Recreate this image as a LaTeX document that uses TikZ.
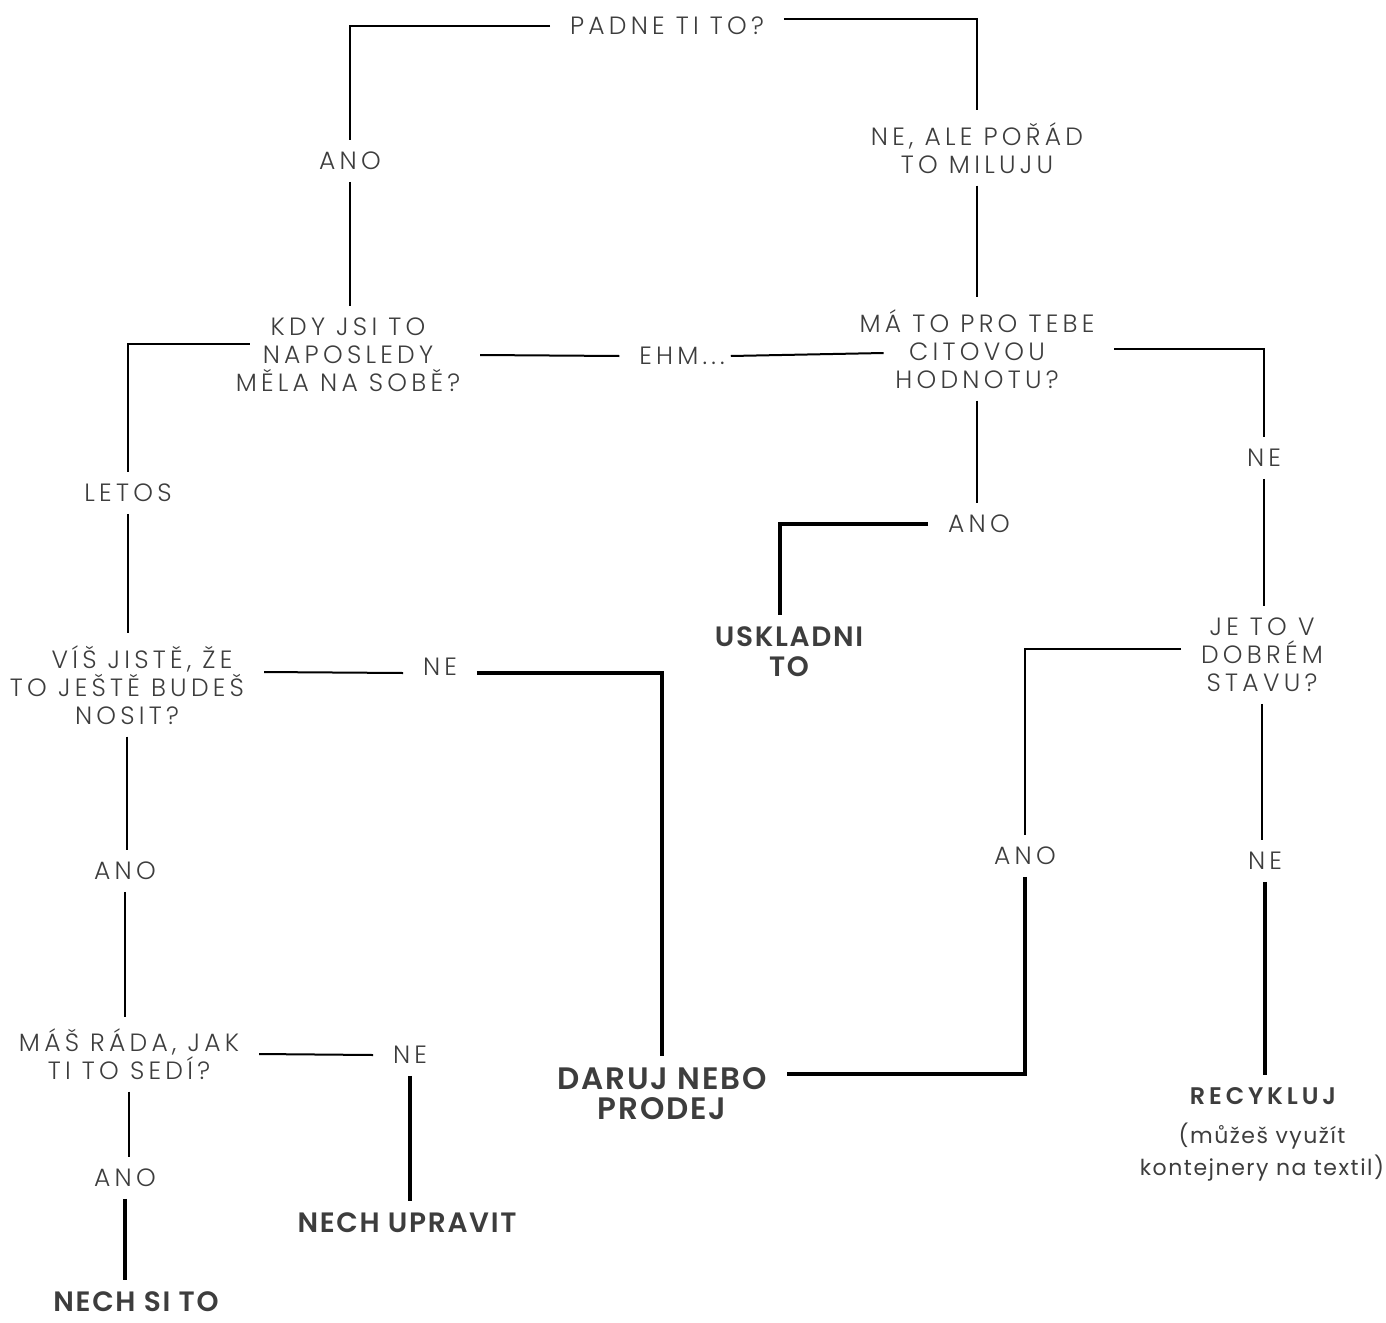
\documentclass[tikz,border=0pt]{standalone}
\usepackage{fontspec}
\setmainfont{Poppins}
\newfontfamily\thinfont{Poppins Light}[LetterSpace=17]
\newfontfamily\heavyfont{Poppins SemiBold}[LetterSpace=6]
\newfontfamily\wideheavyfont{Poppins SemiBold}[LetterSpace=16]
\newfontfamily\notefont{Poppins}[LetterSpace=7]
\usetikzlibrary{positioning}
\definecolor{inkgray}{HTML}{3D3D3D}
\tikzset{
  ask/.style={font=\thinfont\fontsize{12.5}{14}\selectfont, text=inkgray, align=center, inner sep=0pt, outer xsep=10pt, outer ysep=6pt},
  verdict/.style={font=\heavyfont\fontsize{14}{15}\selectfont, text=inkgray, align=center, inner sep=0pt, outer xsep=10pt, outer ysep=6pt},
  thinline/.style={line width=1pt},
  thickline/.style={line width=2pt},
}

\begin{document}
\begin{tikzpicture}[x=0.5pt, y=-0.5pt]
		%%%%% START %%%%%
		\useasboundingbox (0, 0) rectangle (1386, 1322);
		
		\node[ask] (padne) at (667, 26) {PADNE TI TO?};
		\node[ask] (anoA) at (350, 161) {ANO};
		\node[ask] (neAle) at (977, 148) {NE, ALE POŘÁD\\TO MILUJU};
		\node[ask] (kdy) at (348, 355) {KDY JSI TO\\NAPOSLEDY\\MĚLA NA SOBĚ?};
		\node[ask] (ehm) at (682, 356) {EHM...};
		\node[ask] (citova) at (977, 349) {MÁ TO PRO TEBE\\CITOVOU\\HODNOTU?};
		\node[ask] (neB) at (1264, 458) {NE};
		\node[ask] (letos) at (128, 493) {LETOS};
		\node[ask] (anoC) at (979, 524) {ANO};
		\node[verdict] (uskladni) at (789, 652) {USKLADNI\\TO};
		
		\node[ask] (vis) at (127, 685) {\hspace*{15pt}VÍŠ JISTĚ, ŽE\\TO JEŠTĚ BUDEŠ\\NOSIT?};
		\node[ask] (neD) at (440, 667) {NE};
		\node[ask] (stav) at (1262, 655) {JE TO V\\DOBRÉM\\STAVU?};
		\node[ask] (anoE) at (125, 871) {ANO};
		\node[ask] (anoF) at (1025, 856) {ANO};
		\node[ask] (neG) at (1265, 861) {NE};
		
		\node[ask] (mas) at (129, 1054) {MÁŠ RÁDA, JAK\\TI TO SEDÍ?};
		\node[ask] (neH) at (410, 1055) {NE};
		\node[verdict, font=\heavyfont\fontsize{15.5}{15}\selectfont] (daruj) at (662, 1094) {DARUJ NEBO\\PRODEJ};
		\node[ask] (anoI) at (125, 1178) {ANO};
		\node[verdict] (upravit) at (407, 1223) {NECH UPRAVIT};
		\node[verdict, font=\wideheavyfont\fontsize{12}{14}\selectfont] (recykluj) at (1263, 1096) {RECYKLUJ};
		\node[font=\notefont\fontsize{11}{16}\selectfont, text=inkgray, align=center, inner sep=0pt] (recnote) at (1262, 1152) {(můžeš využít\\kontejnery na textil)};
		\node[verdict] (nechsi) at (136, 1302) {NECH SI TO};
		
		\draw[thinline] (padne.west) -| (anoA.north);
		\draw[thinline] (anoA.south) -- (anoA.south |- kdy.north);
		\draw[thinline] ([yshift=3.5pt]padne.east) -| (neAle.north);
		\draw[thinline] (neAle.south) -- (neAle.south |- citova.north);
		
		\draw[thinline] ([xshift=17pt, yshift=5.5pt]kdy.west) -| (letos.north);
		\draw[thinline] (letos.south) -- (letos.south |- vis.north);
		\draw[thinline] (kdy.east) -- (ehm.west);
		\draw[thinline] ([xshift=-7pt]ehm.east) -- ([xshift=22pt, yshift=-2pt]citova.west);
		\draw[thinline] (citova.east) -| (neB.north);
		\draw[thinline] (citova.south) -- (citova.south |- anoC.north);
		\draw[thickline] (anoC.west) -| ([xshift=-4.5pt]uskladni.north);
		\draw[thinline] (neB.south) -- (neB.south |- stav.north);
		
		\draw[thinline] ([yshift=6.5pt]vis.east) -- ([yshift=-3pt]neD.west);
		\draw[thickline] ([yshift=-3pt]neD.east) -| (daruj.north);
		\draw[thinline] (vis.south) -- (vis.south |- anoE.north);
		\draw[thinline] ([yshift=3pt]stav.west) -| (anoF.north);
		\draw[thinline] (stav.south) -- (stav.south |- neG.north);
		\draw[thickline] (anoF.south) |- ([yshift=10pt]daruj.east);
		\draw[thickline] (neG.south) -- (neG.south |- recykluj.north);
		
		\draw[thinline] (anoE.south) -- (anoE.south |- mas.north);
		\draw[thinline] (mas.east) -- (neH.west);
		\draw[thickline] (neH.south) -- (neH.south |- upravit.north);
		\draw[thinline] (mas.south) -- (mas.south |- anoI.north);
		\draw[thickline] (anoI.south) -- (anoI.south |- nechsi.north);
		
		%%%%% END %%%%%
\end{tikzpicture}
\end{document}
